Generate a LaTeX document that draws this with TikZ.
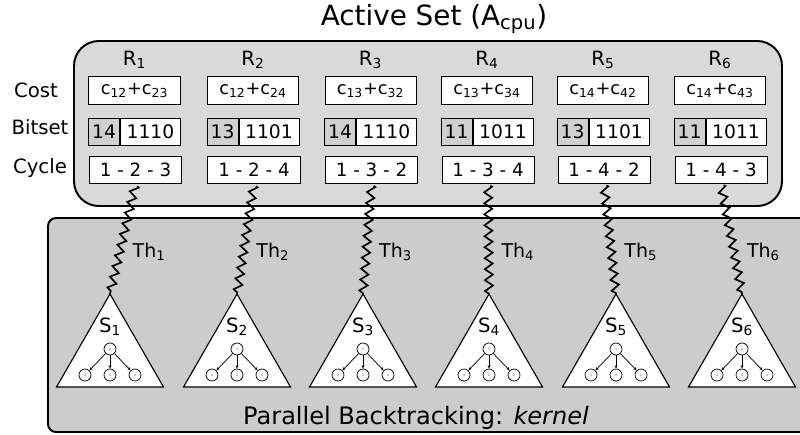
\documentclass[tikz,border=0pt]{standalone}
\usepackage{fontspec}
\setmainfont{DejaVu Sans}
\usepackage{tikz}
\usetikzlibrary{calc, decorations.pathmorphing, arrows.meta}
\definecolor{setgray}{HTML}{D9D9D9}
\definecolor{kergray}{HTML}{CCCCCC}
\definecolor{cellgray}{HTML}{D0D0D0}

\begin{document}
\begin{tikzpicture}[
    x=0.025cm, y=-0.025cm,
    cell/.style={draw, fill=#1, line width=0.7pt, inner sep=0pt,
                 minimum height=0.68cm},
    cell/.default=white,
    lab/.style={font=\fontsize{14}{16}\selectfont},
    thread/.style={decorate, decoration={zigzag, segment length=7.8pt, amplitude=2.8pt},
                   line width=1.2pt, shorten <=2pt},
    leaf/.style={draw, circle, fill=white, line width=0.5pt, inner sep=0pt,
                 minimum size=0.3cm, font=\fontsize{3}{3}\selectfont\color{gray}},
    tip/.style={-{Stealth[length=2.5pt, width=2pt]}, line width=0.5pt},
]
    \useasboundingbox (0,0) rectangle (800,434);

    % active set
    \draw[fill=setgray, line width=1.4pt, rounded corners=0.62cm] (74,41) rectangle (782,206);
    \node[font=\fontsize{19.8}{23}\selectfont] (title) at (434,19) {Active Set (A\textsubscript{cpu})};
    \node[lab] (cost) at (36,90) {Cost};
    \node[lab] (bits) at (40,127) {Bitset};
    \node[lab] (cycl) at (40,168) {Cycle};

    % kernel
    \draw[fill=kergray, line width=1.4pt, rounded corners=0.2cm] (48,218) rectangle (830,432);
    \node[font=\fontsize{17.1}{20}\selectfont] (kern) at (416,418) {Parallel Backtracking: \textit{kernel}};

    % one column per thread
    \foreach \i/\cx/\tx/\ca/\cb/\nb/\bs/\cyc in {
        1/134.5/110/12/23/14/1110/1 - 2 - 3,
        2/253/237/12/24/13/1101/1 - 2 - 4,
        3/370.5/363/13/32/14/1110/1 - 3 - 2,
        4/487/489/13/34/11/1011/1 - 3 - 4,
        5/603/616/14/42/13/1101/1 - 4 - 2,
        6/720/742/14/43/11/1011/1 - 4 - 3} {
        \node[lab] (r\i) at (\cx,60) {R\textsubscript{\i}};
        \node[cell, minimum width=2.275cm, font=\fontsize{12.6}{14}\selectfont]
            (co\i) at (\cx,90.5) {c\textsubscript{\ca}+c\textsubscript{\cb}};
        \node[cell=cellgray, minimum width=0.775cm, anchor=east, font=\fontsize{13.3}{15}\selectfont]
            (bn\i) at (\cx-14.5,132) {\nb};
        \node[cell, minimum width=1.5cm, anchor=west, font=\fontsize{13.3}{15}\selectfont]
            (bb\i) at (\cx-14.5,132) {\bs};
        \node[cell, minimum width=2.3cm, font=\fontsize{13}{15}\selectfont]
            (cy\i) at (\cx+1,170) {\cyc};

        % search tree
        \coordinate (a\i) at (\tx,294);
        \draw[fill=white, line width=0.8pt] (a\i) -- (\tx-53.5,387) -- (\tx+53.5,387) -- cycle;
        \node[lab] (s\i) at (\tx,327) {S\textsubscript{\i}};
        \node[leaf] (n\i) at (\tx,349) {x};
        \foreach \dx [count=\k] in {-25,0,25} {
            \node[leaf] (n\i-\k) at (\tx+\dx,375) {x};
            \draw[tip] (n\i) -- (n\i-\k);
        }

        % thread
        \draw[thread] (cy\i.south) -- (a\i);
        \node[lab, anchor=west, font=\fontsize{13.5}{15}\selectfont]
            (th\i) at ($(cy\i.south)!0.62!(a\i)+(8,0)$) {Th\textsubscript{\i}};
    }
\end{tikzpicture}
\end{document}
